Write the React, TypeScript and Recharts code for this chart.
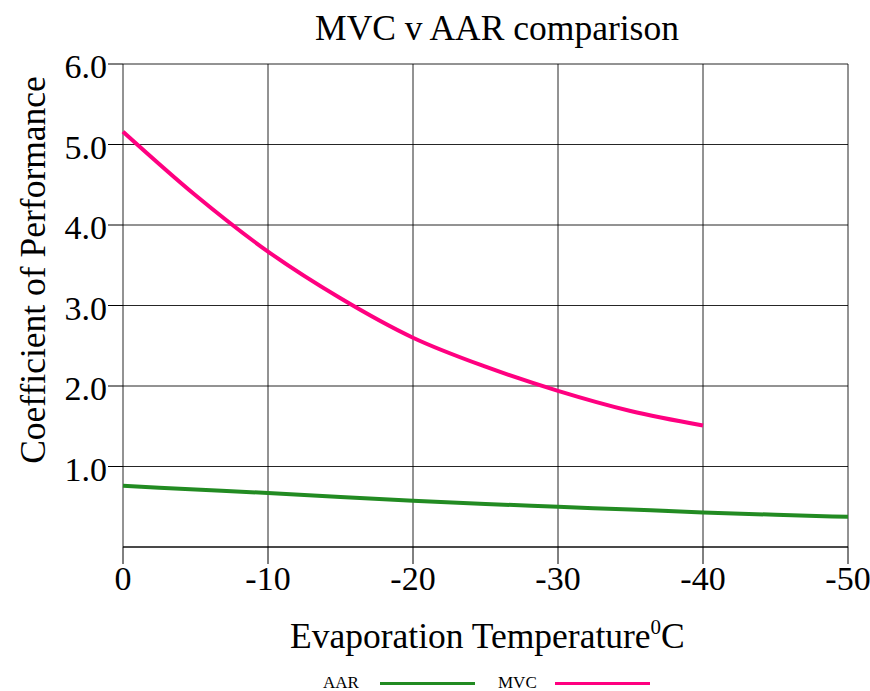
import { LineChart, Line, XAxis, YAxis, CartesianGrid } from 'recharts';

const temps = [0, -5, -10, -15, -20, -25, -30, -35, -40, -45, -50];
const aarCop = [0.76, 0.715, 0.67, 0.62, 0.575, 0.535, 0.5, 0.465, 0.43, 0.4, 0.375];
const mvcTemps = [0, -5, -10, -15, -20, -25, -30, -35, -40];
const mvcCop = [5.16, 4.37, 3.67, 3.09, 2.6, 2.24, 1.94, 1.69, 1.51];
const xTicks = [0, -10, -20, -30, -40, -50];
const yTicks = [1, 2, 3, 4, 5, 6];

const aarData = temps.map((t, i) => ({ t, cop: aarCop[i] }));
const mvcData = mvcTemps.map((t, i) => ({ t, cop: mvcCop[i] }));

const series = [
  { name: 'AAR', color: '#228b22', data: aarData },
  { name: 'MVC', color: '#ff0080', data: mvcData },
];

const FONT = '"Liberation Serif", "Times New Roman", serif';

const yLabel = () => (
  <text
    transform="translate(45,270) rotate(-90)"
    textAnchor="middle"
    fontFamily={FONT}
    fontSize={35.5}
    fill="#000"
  >
    Coefficient of Performance
  </text>
);

const xLabel = () => (
  <text x={290} y={648} fontFamily={FONT} fontSize={35.5} fill="#000">
    Evaporation Temperature
    <tspan fontSize={21} dy={-14}>0</tspan>
    <tspan dy={14}>C</tspan>
  </text>
);

const XTick = ({ x, y, payload }: any) => (
  <text x={x} y={y + 25} textAnchor="middle" fontFamily={FONT} fontSize={34} fill="#000">
    {String(payload.value)}
  </text>
);

const YTick = ({ x, y, payload }: any) => (
  <text x={x} y={y + 14} textAnchor="end" fontFamily={FONT} fontSize={34} fill="#000">
    {Number(payload.value).toFixed(1)}
  </text>
);

export default function App() {
  return (
    <div style={{ position: 'absolute', left: 0, top: 0, width: 870, height: 691, background: '#fff', fontFamily: FONT }}>
      <div style={{ position: 'absolute', left: 0, width: 994, top: 10, fontSize: 35.5, lineHeight: '36px', textAlign: 'center' }}>
        MVC v AAR comparison
      </div>
      <LineChart width={870} height={691} margin={{ top: 64, right: 22, bottom: 84, left: 0 }} style={{ fontFamily: FONT }}>
        <CartesianGrid stroke="#000" strokeOpacity={0.85} />
        <XAxis
          type="number"
          dataKey="t"
          domain={[-50, 0]}
          reversed
          ticks={xTicks}
          height={60}
          stroke="#000"
          tickSize={17}
          tickMargin={1}
          tick={XTick}
          label={{ content: xLabel }}
        />
        <YAxis
          type="number"
          domain={[0, 6]}
          ticks={yTicks}
          width={123}
          stroke="#000"
          axisLine={false}
          tickSize={15}
          tickMargin={1}
          tick={YTick}
          label={{ content: yLabel }}
        />
        {series.map((s) => (
          <Line
            key={s.name}
            data={s.data}
            dataKey="cop"
            name={s.name}
            type="monotone"
            stroke={s.color}
            strokeWidth={4}
            dot={false}
            activeDot={false}
            isAnimationActive={false}
          />
        ))}
      </LineChart>
      <div style={{ position: 'absolute', left: 323, top: 672, display: 'flex', alignItems: 'center', fontSize: 17, lineHeight: '22px' }}>
        {series.map((s) => (
          <div key={s.name} style={{ display: 'flex', alignItems: 'center', marginRight: 23 }}>
            <span style={{ width: 57 }}>{s.name}</span>
            <span style={{ display: 'inline-block', width: 95, height: 3, background: s.color }} />
          </div>
        ))}
      </div>
    </div>
  );
}
